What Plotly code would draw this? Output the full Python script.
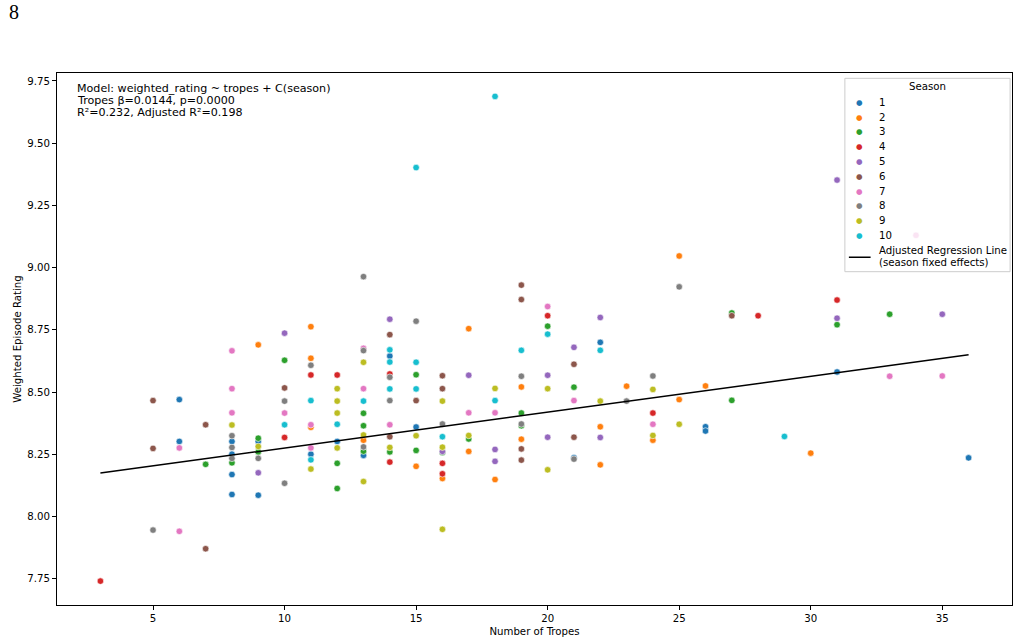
import plotly.graph_objects as go

# episodes per season: number of tropes and weighted rating
s1_tropes = [6, 6, 8, 8, 8, 8, 9, 9, 11, 12, 13, 14, 15, 21, 22, 26, 26, 31, 36]
s1_rating = [8.470, 8.302, 8.302, 8.251, 8.169, 8.089, 8.302, 8.086, 8.251, 8.302, 8.246, 8.645, 8.360, 8.236, 8.700, 8.361, 8.344, 8.581, 8.236]

s2_tropes = [9, 11, 11, 11, 13, 15, 16, 17, 17, 18, 19, 19, 22, 22, 23, 24, 25, 25, 26, 30]
s2_rating = [8.690, 8.763, 8.636, 8.359, 8.307, 8.202, 8.153, 8.755, 8.262, 8.149, 8.521, 8.311, 8.361, 8.208, 8.524, 8.307, 9.047, 8.470, 8.525, 8.255]

s3_tropes = [7, 8, 9, 9, 10, 12, 12, 13, 13, 13, 14, 15, 15, 16, 17, 19, 19, 20, 21, 27, 27, 31, 33]
s3_rating = [8.210, 8.216, 8.315, 8.260, 8.628, 8.214, 8.113, 8.415, 8.365, 8.263, 8.260, 8.570, 8.266, 8.258, 8.312, 8.416, 8.365, 8.765, 8.520, 8.818, 8.467, 8.771, 8.813]

s4_tropes = [3, 10, 11, 12, 14, 14, 16, 16, 20, 24, 28, 31]
s4_rating = [7.741, 8.318, 8.569, 8.569, 8.573, 8.219, 8.214, 8.172, 8.807, 8.416, 8.807, 8.870]

s5_tropes = [9, 10, 14, 16, 17, 18, 18, 20, 20, 21, 22, 22, 31, 31, 35]
s5_rating = [8.176, 8.737, 8.793, 8.262, 8.568, 8.270, 8.222, 8.568, 8.319, 8.680, 8.800, 8.318, 9.352, 8.797, 8.813]

s6_tropes = [5, 5, 7, 7, 10, 14, 14, 15, 16, 16, 19, 19, 19, 19, 21, 21, 27]
s6_rating = [8.466, 8.274, 8.369, 7.871, 8.517, 8.731, 8.321, 8.466, 8.566, 8.514, 8.930, 8.872, 8.272, 8.227, 8.612, 8.319, 8.807]

s7_tropes = [6, 6, 8, 8, 8, 10, 11, 11, 13, 13, 14, 17, 18, 20, 21, 24, 33, 34, 35]
s7_rating = [8.276, 7.941, 8.666, 8.514, 8.417, 8.416, 8.369, 8.276, 8.676, 8.514, 8.369, 8.417, 8.417, 8.844, 8.466, 8.371, 8.564, 9.130, 8.565]

s8_tropes = [5, 8, 8, 8, 9, 10, 10, 11, 13, 13, 13, 14, 14, 15, 16, 19, 19, 21, 23, 24, 25]
s8_rating = [7.946, 8.325, 8.278, 8.234, 8.234, 8.464, 8.134, 8.608, 8.964, 8.667, 8.280, 8.560, 8.466, 8.785, 8.372, 8.564, 8.372, 8.231, 8.464, 8.565, 8.923]

s9_tropes = [8, 9, 11, 12, 12, 12, 12, 13, 13, 13, 14, 15, 16, 16, 16, 17, 18, 20, 20, 22, 24, 24, 25]
s9_rating = [8.368, 8.282, 8.191, 8.514, 8.464, 8.416, 8.276, 8.620, 8.328, 8.141, 8.278, 8.325, 8.464, 8.279, 7.949, 8.326, 8.515, 8.514, 8.188, 8.464, 8.511, 8.326, 8.371]

s10_tropes = [10, 11, 11, 12, 13, 14, 14, 14, 15, 15, 15, 16, 18, 18, 19, 20, 22, 29]
s10_rating = [8.369, 8.466, 8.228, 8.371, 8.464, 8.670, 8.621, 8.513, 9.402, 8.620, 8.513, 8.321, 9.688, 8.466, 8.668, 8.733, 8.668, 8.322]

seasons = ["1", "2", "3", "4", "5", "6", "7", "8", "9", "10"]
tropes = [s1_tropes, s2_tropes, s3_tropes, s4_tropes, s5_tropes, s6_tropes, s7_tropes, s8_tropes, s9_tropes, s10_tropes]
ratings = [s1_rating, s2_rating, s3_rating, s4_rating, s5_rating, s6_rating, s7_rating, s8_rating, s9_rating, s10_rating]

# fitted line end points
line_x = [3, 36]
line_y = [8.175, 8.650]

model_text = [
    "Model: weighted_rating ~ tropes + C(season)",
    "Tropes β=0.0144, p=0.0000",
    "R²=0.232, Adjusted R²=0.198",
]

colors = ["#1f77b4", "#ff7f0e", "#2ca02c", "#d62728", "#9467bd",
          "#8c564b", "#e377c2", "#7f7f7f", "#bcbd22", "#17becf"]

font = "DejaVu Sans"
fs = 10.2

fig = go.Figure()

for name, xs, ys, c in zip(seasons, tropes, ratings, colors):
    fig.add_trace(go.Scatter(
        x=xs, y=ys, mode="markers", name=name, showlegend=False,
        marker=dict(color=c, size=6.5, line=dict(color="white", width=0.6)),
    ))

fig.add_trace(go.Scatter(
    x=line_x, y=line_y, mode="lines", showlegend=False,
    line=dict(color="black", width=1.5),
))

axis_style = dict(
    showgrid=False, zeroline=False, showline=True, mirror=True, automargin=False,
    linecolor="black", linewidth=1, ticks="outside", ticklen=4,
    tickcolor="black", tickfont=dict(family=font, size=fs, color="black"),
)

fig.update_xaxes(
    range=[1.35, 37.65], tickvals=[5, 10, 15, 20, 25, 30, 35],
    title=dict(text="Number of Tropes", font=dict(family=font, size=fs, color="black"), standoff=4),
    **axis_style,
)
fig.update_yaxes(
    range=[7.645, 9.782], tickvals=[7.75, 8.0, 8.25, 8.5, 8.75, 9.0, 9.25, 9.5, 9.75],
    tickformat=".2f",
    title=dict(text="Weighted Episode Rating", font=dict(family=font, size=fs, color="black"), standoff=3),
    **axis_style,
)

for i, line in enumerate(model_text):
    fig.add_annotation(
        xref="paper", yref="paper", x=0.0185, y=0.970 - i * 0.0225,
        xanchor="left", yanchor="middle", showarrow=False, text=line,
        font=dict(family=font, size=11.1, color="black"),
    )

fig.add_annotation(
    xref="paper", yref="paper", x=-0.045, y=1.115, xanchor="center", yanchor="middle",
    showarrow=False, text="8",
    font=dict(family="Liberation Serif", size=20, color="black"),
)

# legend drawn on its own small axes (pixel-like units, rows top to bottom);
# its semi-transparent box sits above the data, like matplotlib's legend
fig.add_shape(
    type="rect", xref="x2 domain", yref="y2 domain", x0=0, x1=1, y0=0, y1=1,
    fillcolor="rgba(255,255,255,0.8)", line=dict(color="#cccccc", width=1), layer="above",
)
fig.add_shape(
    type="line", xref="x2", yref="y2", x0=4, x1=25.7, y0=10.47, y1=10.47,
    line=dict(color="black", width=1.5), layer="above",
)
for i, (name, c) in enumerate(zip(seasons, colors)):
    fig.add_annotation(
        xref="x2", yref="y2", x=15, y=i, xanchor="center", yanchor="middle",
        showarrow=False, text="●", font=dict(family=font, size=7.5, color=c),
    )
    fig.add_annotation(
        xref="x2", yref="y2", x=32, y=i, xanchor="left", yanchor="middle",
        showarrow=False, text=name, font=dict(family=font, size=fs, color="black"),
    )
fig.add_annotation(
    xref="x2", yref="y2", x=82.5, y=-1.05, xanchor="center", yanchor="middle",
    showarrow=False, text="Season", font=dict(family=font, size=fs, color="black"),
)
fig.add_annotation(
    xref="x2", yref="y2", x=32, y=10.05, xanchor="left", yanchor="middle",
    showarrow=False, text="Adjusted Regression Line", font=dict(family=font, size=fs, color="black"),
)
fig.add_annotation(
    xref="x2", yref="y2", x=32, y=10.82, xanchor="left", yanchor="middle",
    showarrow=False, text="(season fixed effects)", font=dict(family=font, size=fs, color="black"),
)

fig.update_layout(
    width=1022, height=642,
    margin=dict(l=57, r=10, t=73, b=37),
    plot_bgcolor="rgba(0,0,0,0)", paper_bgcolor="white",
    font=dict(family=font, size=fs, color="black"),
    showlegend=False,
    xaxis2=dict(domain=[0.825, 0.998], range=[0, 165], anchor="y2", visible=False, fixedrange=True),
    yaxis2=dict(domain=[0.6265, 0.990], range=[11.45, -1.62], anchor="x2", visible=False, fixedrange=True),
)

# drop the browser's default body margin so the figure fills the window
fig.write_html(
    "out.html",
    config={"displayModeBar": False},
    post_script="document.body.style.margin = '0';",
)
